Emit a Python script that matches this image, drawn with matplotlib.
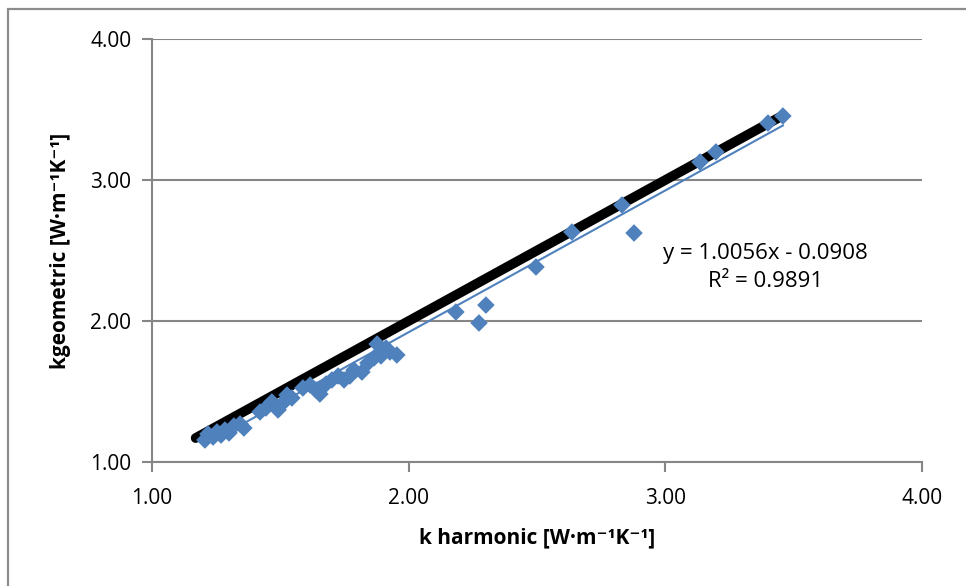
import matplotlib.pyplot as plt
from matplotlib.patches import Rectangle
import numpy as np

# k harmonic vs k geometric
k_harmonic = [1.206, 1.218, 1.238, 1.253, 1.269, 1.284, 1.300, 1.319, 1.343, 1.358,
              1.421, 1.444, 1.467, 1.491, 1.506, 1.526, 1.545, 1.588, 1.616, 1.639,
              1.654, 1.678, 1.701, 1.725, 1.748, 1.771, 1.787, 1.818, 1.841, 1.865,
              1.877, 1.892, 1.912, 1.927, 1.954, 2.184, 2.274, 2.301, 2.496, 2.636,
              2.831, 2.878, 3.135, 3.197, 3.400, 3.458]
k_geometric = [1.156, 1.199, 1.177, 1.213, 1.191, 1.227, 1.206, 1.255, 1.270, 1.241,
               1.355, 1.383, 1.426, 1.369, 1.411, 1.475, 1.454, 1.525, 1.546, 1.511,
               1.482, 1.553, 1.582, 1.610, 1.582, 1.610, 1.652, 1.638, 1.702, 1.738,
               1.837, 1.752, 1.809, 1.780, 1.759, 2.064, 1.986, 2.113, 2.383, 2.631,
               2.823, 2.624, 3.128, 3.199, 3.404, 3.454]

# 1:1 reference line
identity_x = [1.17, 3.46]

# linear trendline shown on the chart
slope = 1.0056
intercept = -0.0908
r_squared = 0.9891

ticks = [1.0, 2.0, 3.0, 4.0]
tick_labels = ["1.00", "2.00", "3.00", "4.00"]

FONT = ["Open Sans", "DejaVu Sans"]
BLUE = "#4F81BD"
GRAY = "#868686"

fig = plt.figure(figsize=(9.66, 5.86), dpi=100)
ax = fig.add_axes([152 / 966, 1 - 462 / 586, 770 / 966, 423 / 586])

# outer chart frame (runs off the right and bottom edge)
fig.patches.append(Rectangle((8 / 966, -0.1), 1.2, 1 - 9 / 586 + 0.1,
                             transform=fig.transFigure, fill=False,
                             edgecolor="#8c8c8c", linewidth=1.6))

ax.plot(identity_x, identity_x, color="black", linewidth=7,
        solid_capstyle="round", zorder=2)
ax.scatter(k_harmonic, k_geometric, marker="D", s=80, color=BLUE,
           edgecolors="none", zorder=3)

trend_x = np.array([min(k_harmonic), max(k_harmonic)])
ax.plot(trend_x, slope * trend_x + intercept, color=BLUE, linewidth=1.5, zorder=4)

ax.set_xlim(1, 4)
ax.set_ylim(1, 4)
ax.set_xticks(ticks)
ax.set_xticklabels(tick_labels, family=FONT, fontsize=15)
ax.set_yticks(ticks)
ax.set_yticklabels(tick_labels, family=FONT, fontsize=15)
ax.tick_params(axis="both", direction="out", length=7, width=1.5, color=GRAY, pad=8)
ax.tick_params(axis="x", pad=12)

for s in ["top", "right"]:
    ax.spines[s].set_visible(False)
for s in ["left", "bottom"]:
    ax.spines[s].set_color(GRAY)
    ax.spines[s].set_linewidth(1.5)

ax.yaxis.grid(True, color=GRAY, linewidth=1.5)
ax.set_axisbelow(True)

ax.set_xlabel("k harmonic [W\u00b7m\u207b\u00b9K\u207b\u00b9]", family=FONT,
              fontsize=15, fontweight="bold", labelpad=13)
ax.set_ylabel("kgeometric [W\u00b7m\u207b\u00b9K\u207b\u00b9]", family=FONT,
              fontsize=15, fontweight="bold", labelpad=14)

ax.text(3.39, 2.38, "y = %.4fx - %.4f\nR\u00b2 = %.4f" % (slope, -intercept, r_squared),
        family=FONT, fontsize=16, ha="center", va="center", linespacing=1.4)

fig.savefig("out.png", dpi=100)
